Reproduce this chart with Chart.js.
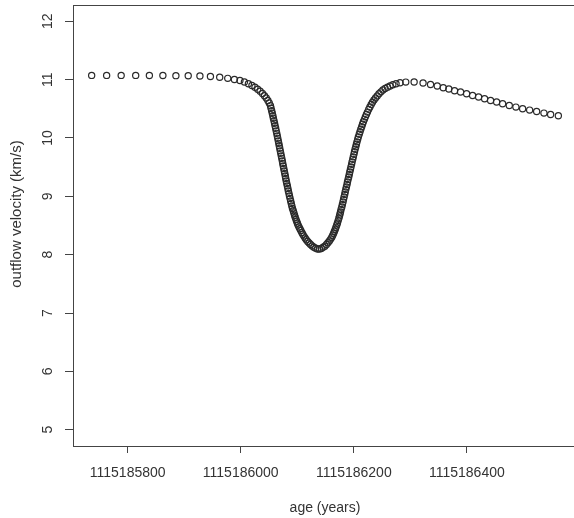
<!DOCTYPE html>
<html><head><meta charset="utf-8">
<script src="https://cdn.jsdelivr.net/npm/chart.js@4/dist/chart.umd.min.js"></script>
<style>html,body{margin:0;padding:0;background:#fff;overflow:hidden}#wrap{width:578px;height:518px}</style>
</head><body><div id="wrap"><canvas id="c" width="578" height="518"></canvas></div>
<script>
const ages = [
1115185736.3,1115185762.8,1115185788.5,1115185814.2,1115185838.4,1115185862.3,1115185885.3,1115185907.1,
1115185927.8,1115185946.4,1115185962.8,1115185977.0,1115185988.8,1115185998.6,1115186006.5,1115186013.6,
1115186019.8,1115186025.1,1115186029.9,1115186034.3,1115186038.4,1115186041.9,1115186045.1,1115186048.0,
1115186050.4,1115186052.6,1115186053.6,1115186054.7,1115186055.8,1115186056.8,1115186057.7,1115186058.8,
1115186059.8,1115186060.7,1115186061.8,1115186062.7,1115186063.7,1115186064.6,1115186065.5,1115186066.4,
1115186067.3,1115186068.1,1115186069.0,1115186069.9,1115186070.8,1115186071.7,1115186072.6,1115186073.5,
1115186074.3,1115186075.2,1115186076.1,1115186077.0,1115186077.9,1115186078.8,1115186079.6,1115186080.5,
1115186081.4,1115186082.5,1115186083.4,1115186084.2,1115186085.3,1115186086.2,1115186087.3,1115186088.3,
1115186089.4,1115186090.4,1115186091.5,1115186092.9,1115186094.0,1115186095.2,1115186096.3,1115186097.7,
1115186098.9,1115186100.2,1115186101.4,1115186103.0,1115186104.6,1115186106.2,1115186108.0,1115186109.7,
1115186111.7,1115186113.8,1115186115.9,1115186118.4,1115186120.9,1115186123.5,1115186126.4,1115186129.4,
1115186132.6,1115186135.8,1115186139.1,1115186142.5,1115186145.7,1115186148.8,1115186151.7,1115186154.3,
1115186156.8,1115186159.1,1115186161.1,1115186162.8,1115186164.4,1115186165.8,1115186167.3,1115186168.5,
1115186169.9,1115186171.1,1115186172.4,1115186173.6,1115186174.7,1115186175.6,1115186176.5,1115186177.5,
1115186178.8,1115186179.8,1115186180.9,1115186181.8,1115186182.8,1115186183.9,1115186184.8,1115186185.8,
1115186186.9,1115186188.0,1115186188.8,1115186189.9,1115186191.0,1115186192.0,1115186192.9,1115186194.0,
1115186195.0,1115186196.1,1115186197.0,1115186198.1,1115186199.1,1115186200.2,1115186201.2,1115186202.3,
1115186203.5,1115186204.6,1115186205.7,1115186206.9,1115186208.1,1115186209.6,1115186211.0,1115186212.4,
1115186214.0,1115186215.4,1115186217.0,1115186218.8,1115186220.5,1115186222.3,1115186224.2,1115186226.4,
1115186228.5,1115186230.8,1115186233.1,1115186235.7,1115186238.4,1115186241.4,1115186244.6,1115186248.0,
1115186251.5,1115186255.4,1115186259.6,1115186264.1,1115186269.0,1115186274.7,1115186281.8,1115186291.9,
1115186306.7,1115186322.5,1115186335.7,1115186347.6,1115186358.2,1115186368.1,1115186378.2,1115186388.8,
1115186399.5,1115186410.1,1115186420.7,1115186431.3,1115186441.9,1115186452.6,1115186463.2,1115186475.0,
1115186486.7,1115186498.6,1115186511.0,1115186523.4,1115186536.3,1115186548.1,1115186561.8
];
const velocities = [
11.073,11.073,11.073,11.073,11.071,11.071,11.069,11.068,
11.062,11.054,11.042,11.023,11.004,10.985,10.961,10.930,
10.901,10.870,10.837,10.803,10.764,10.724,10.685,10.642,
10.599,10.552,10.510,10.467,10.424,10.381,10.338,10.295,
10.252,10.209,10.166,10.123,10.080,10.037,9.994,9.951,
9.908,9.866,9.823,9.780,9.737,9.694,9.651,9.608,
9.565,9.522,9.479,9.436,9.393,9.350,9.307,9.264,
9.221,9.179,9.136,9.093,9.050,9.007,8.964,8.921,
8.878,8.835,8.792,8.753,8.715,8.677,8.641,8.605,
8.571,8.540,8.509,8.476,8.443,8.413,8.382,8.351,
8.318,8.287,8.256,8.227,8.200,8.174,8.150,8.128,
8.112,8.097,8.098,8.107,8.126,8.146,8.174,8.203,
8.234,8.267,8.299,8.332,8.366,8.401,8.437,8.471,
8.509,8.545,8.584,8.624,8.665,8.698,8.732,8.775,
8.818,8.861,8.904,8.947,8.990,9.033,9.076,9.119,
9.161,9.204,9.247,9.290,9.333,9.376,9.419,9.462,
9.505,9.548,9.591,9.634,9.677,9.720,9.763,9.806,
9.849,9.892,9.934,9.977,10.020,10.063,10.106,10.149,
10.192,10.235,10.278,10.320,10.363,10.405,10.444,10.491,
10.532,10.575,10.614,10.652,10.686,10.722,10.758,10.791,
10.822,10.848,10.872,10.892,10.913,10.930,10.947,10.958,
10.959,10.942,10.918,10.891,10.861,10.839,10.810,10.788,
10.758,10.729,10.702,10.673,10.643,10.616,10.587,10.558,
10.530,10.501,10.478,10.454,10.427,10.403,10.381
];
const xTickValues = [1115185800, 1115186000, 1115186200, 1115186400];
const yTickValues = [5, 6, 7, 8, 9, 10, 11, 12];
const xTitle = 'age (years)';
const yTitle = 'outflow velocity (km/s)';

const points = ages.map((a, i) => ({x: a, y: velocities[i]}));
const FONT = 'Liberation Sans, Arial, Helvetica, sans-serif';
const textColor = '#333';
const lineColor = '#444';

const framePlugin = {
  id: 'frame',
  afterDraw(chart) {
    const {ctx, chartArea: a} = chart;
    ctx.save();
    ctx.strokeStyle = lineColor;
    ctx.lineWidth = 1;
    ctx.strokeRect(Math.round(a.left) + 0.5, Math.round(a.top) + 0.5, Math.round(a.right - a.left), Math.round(a.bottom - a.top));
    // y-axis title, placed as in the reference (slightly above the plot centre)
    ctx.fillStyle = textColor;
    ctx.font = '15px ' + FONT;
    ctx.textAlign = 'center';
    ctx.textBaseline = 'middle';
    ctx.translate(17, 214);
    ctx.rotate(-Math.PI / 2);
    ctx.fillText(yTitle, 0, 0);
    ctx.restore();
  }
};

new Chart(document.getElementById('c'), {
  type: 'scatter',
  data: {datasets: [{
    label: yTitle,
    data: points,
    pointStyle: 'circle',
    pointRadius: 3.1,
    pointHoverRadius: 3.1,
    borderWidth: 1.2,
    borderColor: '#2a2a2a',
    backgroundColor: 'rgba(0,0,0,0)'
  }]},
  options: {
    responsive: false,
    animation: false,
    devicePixelRatio: 1,
    events: [],
    layout: {autoPadding: false, padding: {top: 5, right: 1, left: 0, bottom: 0}},
    plugins: {legend: {display: false}, tooltip: {enabled: false}},
    scales: {
      x: {
        type: 'linear', position: 'bottom',
        min: 1115185703.3, max: 1115186594.8,
        afterBuildTicks: s => { s.ticks = xTickValues.map(v => ({value: v})); },
        afterFit: s => { s.height = 72; s.paddingLeft = 0; s.paddingRight = 0; },
        ticks: {callback: v => String(v), font: {family: FONT, size: 14}, color: textColor, padding: 12, maxRotation: 0, minRotation: 0, autoSkip: false},
        grid: {drawOnChartArea: false, drawTicks: true, tickLength: 7, color: lineColor},
        border: {display: true, color: lineColor},
        title: {display: true, text: xTitle, font: {family: FONT, size: 14}, color: textColor, padding: {top: 0, bottom: 1}}
      },
      y: {
        type: 'linear', position: 'left',
        min: 4.72, max: 12.28,
        afterBuildTicks: s => { s.ticks = yTickValues.map(v => ({value: v})); },
        afterFit: s => { s.width = 73; s.paddingTop = 0; s.paddingBottom = 0; },
        ticks: {callback: v => String(v), font: {family: FONT, size: 14}, color: textColor, padding: 9, minRotation: 90, maxRotation: 90, crossAlign: 'center', autoSkip: false},
        grid: {drawOnChartArea: false, drawTicks: true, tickLength: 8, color: lineColor},
        border: {display: true, color: lineColor},
        title: {display: false, text: yTitle}
      }
    }
  },
  plugins: [framePlugin]
});
</script>
</body></html>
